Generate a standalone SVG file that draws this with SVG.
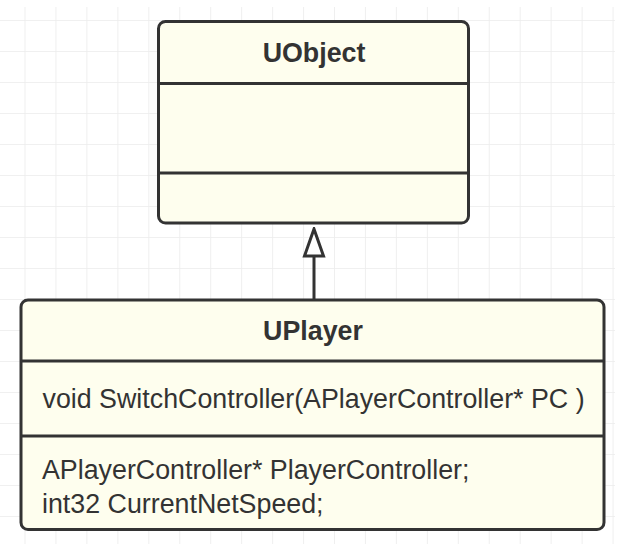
<svg xmlns="http://www.w3.org/2000/svg" width="617" height="544" viewBox="0 0 617 544">
  <defs>
    <pattern id="grid" x="24.5" y="20" width="30.95" height="31" patternUnits="userSpaceOnUse">
      <path d="M0 0V31M0 0H30.95" fill="none" stroke="#ececec" stroke-width="1.6"/>
    </pattern>
    <marker id="inherit" viewBox="0 0 31 24" refX="1.5" refY="12" markerWidth="31" markerHeight="24" markerUnits="userSpaceOnUse" orient="auto">
      <path d="M1.5 2.5L28.5 12L1.5 21.5Z" fill="#ffffff" stroke="#333333" stroke-width="3" stroke-linejoin="miter"/>
    </marker>
    <style>
      .box{fill:#fefeee;stroke:#333333;stroke-width:3}
      .sep{stroke:#333333;stroke-width:3;fill:none}
      .title{font-family:"Liberation Sans",Arial,sans-serif;font-size:26.8px;font-weight:bold;fill:#333333;text-anchor:middle}
      .member{font-family:"Liberation Sans",Arial,sans-serif;font-size:26.8px;fill:#333333}
      .edge{stroke:#333333;stroke-width:3;fill:none}
    </style>
  </defs>
  <rect x="0" y="0" width="617" height="544" fill="#ffffff"/>
  <rect x="0" y="7" width="615" height="537" fill="url(#grid)"/>

  <g id="connectors">
    <path class="edge" d="M314 299V256" marker-end="url(#inherit)"/>
  </g>

  <g id="UObject">
    <rect class="box" x="158.5" y="21.5" width="310" height="201.5" rx="7"/>
    <line class="sep" x1="158.5" y1="83.5" x2="468.5" y2="83.5"/>
    <line class="sep" x1="158.5" y1="173" x2="468.5" y2="173"/>
    <text class="title" x="314" y="62">UObject</text>
  </g>

  <g id="UPlayer">
    <rect class="box" x="21" y="300" width="583" height="229.5" rx="7"/>
    <line class="sep" x1="21" y1="361" x2="604" y2="361"/>
    <line class="sep" x1="21" y1="436" x2="604" y2="436"/>
    <text class="title" x="313" y="340">UPlayer</text>
    <text class="member" x="42.5" y="408">void SwitchController(APlayerController* PC )</text>
    <text class="member" x="42" y="479">APlayerController* PlayerController;</text>
    <text class="member" x="42" y="512.5">int32 CurrentNetSpeed;</text>
  </g>
</svg>
